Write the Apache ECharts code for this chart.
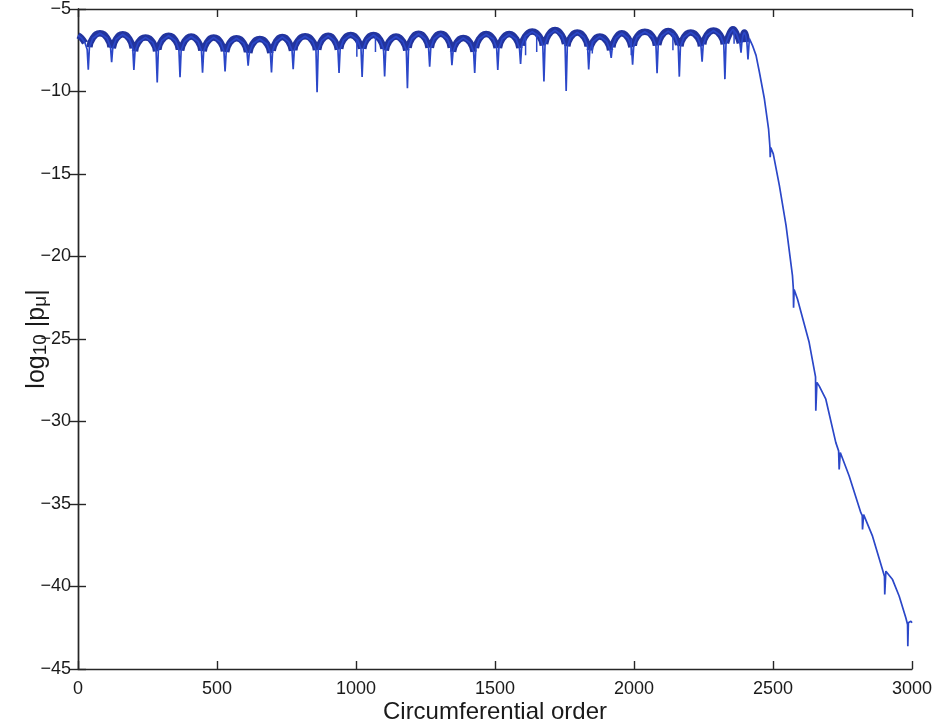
<!DOCTYPE html>
<html>
<head>
<meta charset="utf-8">
<script src="https://cdn.jsdelivr.net/npm/echarts@6/dist/echarts.min.js"></script>
<style>html,body{margin:0;padding:0;background:#fff;}#c{width:937px;height:725px;}</style>
</head>
<body>
<div id="c"></div>
<script>
// ---- data ----
const xTickValues = [0, 500, 1000, 1500, 2000, 2500, 3000];
const yTickValues = [-45, -40, -35, -30, -25, -20, -15, -10, -5];

// start of the flat region (before the first dip)
const startX = [0, 12, 25, 33];
const startY = [-6.6, -6.75, -7.05, -7.45];

// sharp dips of the oscillating plateau
const dipX = [37, 121, 201, 285, 367, 448, 529, 612, 696, 774, 860, 939, 1022, 1103, 1185, 1265,
  1345, 1427, 1510, 1592, 1676, 1756, 1837, 1918, 1995, 2083, 2163, 2245, 2327, 2385, 2410];
const dipY = [-8.68, -8.22, -8.70, -9.45, -9.14, -8.86, -8.79, -8.44, -8.85, -8.65, -10.04, -8.87, -9.12, -9.09, -9.80, -8.50,
  -8.41, -8.88, -8.69, -8.33, -9.39, -9.97, -8.66, -7.96, -8.37, -8.89, -9.10, -8.20, -9.25, -7.65, -8.05];

// arch points between dips (5 per lobe)
const archX = [
  41,53,79,105,117, 125,137,161,185,197, 205,217,243,269,281, 289,301,326,351,363,
  371,383,407,432,444, 452,464,488,513,525, 533,545,570,596,608, 616,628,654,680,692,
  700,712,735,758,770, 778,790,817,844,856, 864,876,900,923,935, 943,955,981,1006,1018,
  1026,1038,1063,1087,1099, 1107,1119,1144,1169,1181, 1189,1201,1225,1249,1261, 1269,1281,1305,1329,1341,
  1349,1361,1386,1411,1423, 1431,1443,1468,1494,1506, 1514,1526,1551,1576,1588, 1596,1608,1634,1660,1672,
  1680,1692,1716,1740,1752, 1760,1772,1796,1821,1833, 1841,1853,1877,1902,1914, 1922,1934,1956,1979,1991,
  1999,2011,2039,2067,2079, 2087,2099,2123,2147,2159, 2167,2179,2204,2229,2241, 2249,2261,2286,2311,2323,
  2331,2343,2356,2369,2381, 2388,2392,2397,2402,2406];
const archY = [
  -7.32,-6.77,-6.47,-6.77,-7.32, -7.38,-6.83,-6.53,-6.83,-7.38, -7.57,-7.02,-6.72,-7.02,-7.57, -7.47,-6.92,-6.62,-6.92,-7.47,
  -7.52,-6.97,-6.67,-6.97,-7.52, -7.57,-7.02,-6.72,-7.02,-7.57, -7.62,-7.07,-6.77,-7.07,-7.62, -7.67,-7.12,-6.82,-7.12,-7.67,
  -7.54,-6.99,-6.69,-6.99,-7.54, -7.50,-6.95,-6.65,-6.95,-7.50, -7.47,-6.92,-6.62,-6.92,-7.47, -7.42,-6.87,-6.57,-6.87,-7.42,
  -7.42,-6.87,-6.57,-6.87,-7.42, -7.52,-6.97,-6.67,-6.97,-7.52, -7.35,-6.80,-6.50,-6.80,-7.35, -7.35,-6.80,-6.50,-6.80,-7.35,
  -7.60,-7.05,-6.75,-7.05,-7.60, -7.37,-6.82,-6.52,-6.82,-7.37, -7.37,-6.82,-6.52,-6.82,-7.37, -7.22,-6.67,-6.37,-6.67,-7.22,
  -7.13,-6.58,-6.28,-6.58,-7.13, -7.27,-6.72,-6.42,-6.72,-7.27, -7.51,-6.96,-6.66,-6.96,-7.51, -7.32,-6.77,-6.47,-6.77,-7.32,
  -7.23,-6.68,-6.38,-6.68,-7.23, -7.19,-6.64,-6.34,-6.64,-7.19, -7.27,-6.72,-6.42,-6.72,-7.27, -7.15,-6.60,-6.30,-6.60,-7.15,
  -7.07,-6.52,-6.22,-6.52,-7.07, -7.00,-6.60,-6.42,-6.60,-7.00];

// small secondary notches inside some arches: x, top level, bottom level
const notchX = [1003, 1070, 1610, 1650, 1850, 1990, 2140, 2360];
const notchTop = [-6.9, -6.6, -6.7, -6.5, -6.95, -6.8, -6.45, -6.3];
const notchY = [-7.9, -7.6, -7.8, -7.6, -7.7, -7.8, -7.5, -7.1];

// steep decay after the plateau
const decayX = [2415, 2426, 2439, 2451, 2469, 2484, 2489, 2490, 2492, 2501, 2523, 2547, 2570, 2573, 2574, 2576,
  2588, 2630, 2653, 2654, 2658, 2666, 2690, 2726, 2736, 2738, 2742, 2774, 2816, 2821, 2822, 2826,
  2858, 2894, 2901, 2902, 2906, 2930, 2954, 2978, 2984, 2985, 2987, 2996, 3000];
const decayY = [-6.80, -7.20, -7.81, -8.82, -10.44, -12.26, -13.37, -13.98, -13.40, -13.78, -15.70, -18.13, -21.16, -21.90, -23.10, -22.00,
  -22.58, -25.20, -27.30, -29.35, -27.63, -27.84, -28.65, -31.28, -31.78, -32.90, -31.88, -33.30, -35.53, -35.70, -36.54, -35.64,
  -36.95, -38.98, -39.40, -40.48, -39.07, -39.58, -40.59, -41.91, -42.30, -43.62, -42.20, -42.10, -42.20];

// ---- build series data ----
const pts = [];
startX.forEach((x, i) => pts.push([x, startY[i]]));
dipX.forEach((x, i) => pts.push([x, dipY[i]]));
archX.forEach((x, i) => pts.push([x, archY[i]]));
decayX.forEach((x, i) => pts.push([x, decayY[i]]));
pts.sort((a, b) => a[0] - b[0]);

const notches = [];
notchX.forEach((x, i) => notches.push([x, notchTop[i]], [x, notchY[i]], [x, '-']));

// dense band along the arches (same read points)
const band = [];
for (let i = 0; i < 3; i++) band.push([startX[i], startY[i]]);
for (let k = 0; k < archX.length / 5; k++) {
  band.push([dipX[k], '-']);
  for (let j = 0; j < 5; j++) band.push([archX[k * 5 + j], archY[k * 5 + j]]);
}

const axisColor = '#262626';
const txtColor = '#1a1a1a';
const font = '"Liberation Sans", Arial, Helvetica, sans-serif';
const minus = v => String(v).replace('-', '\u2212');

const axisCommon = {
  axisLine: {show: true, lineStyle: {color: axisColor, width: 1.4}},
  axisTick: {show: true, inside: true, length: 8, lineStyle: {color: axisColor, width: 1.4}},
  splitLine: {show: false}
};

const chart = echarts.init(document.getElementById('c'), null, {renderer: 'canvas'});
chart.setOption({
  animation: false,
  backgroundColor: '#fff',
  textStyle: {fontFamily: font},
  grid: {left: 78, right: 25, top: 9, bottom: 56, containLabel: false, outerBoundsMode: 'none'},
  xAxis: [Object.assign({
    type: 'value', min: xTickValues[0], max: xTickValues[xTickValues.length - 1], interval: 500,
    position: 'bottom',
    axisLabel: {fontSize: 18, color: txtColor, margin: 11, fontFamily: font, formatter: v => String(v)},
    name: 'Circumferential order', nameLocation: 'middle', nameGap: 31, nameMoveOverlap: false,
    nameTextStyle: {fontSize: 24, color: txtColor, fontFamily: font}
  }, axisCommon), Object.assign({
    type: 'value', min: xTickValues[0], max: xTickValues[xTickValues.length - 1], interval: 500,
    position: 'top', axisLabel: {show: false}
  }, axisCommon)],
  yAxis: [Object.assign({
    type: 'value', min: yTickValues[0], max: yTickValues[yTickValues.length - 1], interval: 5,
    position: 'left',
    axisLabel: {fontSize: 18, color: txtColor, margin: 7, formatter: minus, fontFamily: font},
    name: '{t|log}{s|10}{t| |p}{s|\u03bc}{t||}', nameLocation: 'middle', nameGap: 28, nameRotate: 90,
    nameMoveOverlap: false,
    nameTextStyle: {
      color: txtColor, fontFamily: font,
      rich: {
        t: {fontSize: 25, lineHeight: 25, verticalAlign: 'top', color: txtColor, fontFamily: font},
        s: {fontSize: 19, lineHeight: 19, padding: [16, 0, 0, 0], verticalAlign: 'bottom', color: txtColor, fontFamily: font}
      }
    }
  }, axisCommon), Object.assign({
    type: 'value', min: yTickValues[0], max: yTickValues[yTickValues.length - 1], interval: 5,
    position: 'right', axisLabel: {show: false}
  }, axisCommon)],
  series: [{
    type: 'line', data: band, smooth: 0.5, showSymbol: false, connectNulls: false,
    xAxisIndex: 0, yAxisIndex: 0,
    lineStyle: {width: 6.5, color: '#22349e'}, silent: true
  }, {
    type: 'line', data: pts, showSymbol: false,
    xAxisIndex: 0, yAxisIndex: 0,
    lineStyle: {width: 1.7, color: '#2b47c8'}, silent: true
  }, {
    type: 'line', data: notches, showSymbol: false, connectNulls: false,
    xAxisIndex: 0, yAxisIndex: 0,
    lineStyle: {width: 1.5, color: '#2b47c8'}, silent: true
  }]
});
</script>
</body>
</html>
